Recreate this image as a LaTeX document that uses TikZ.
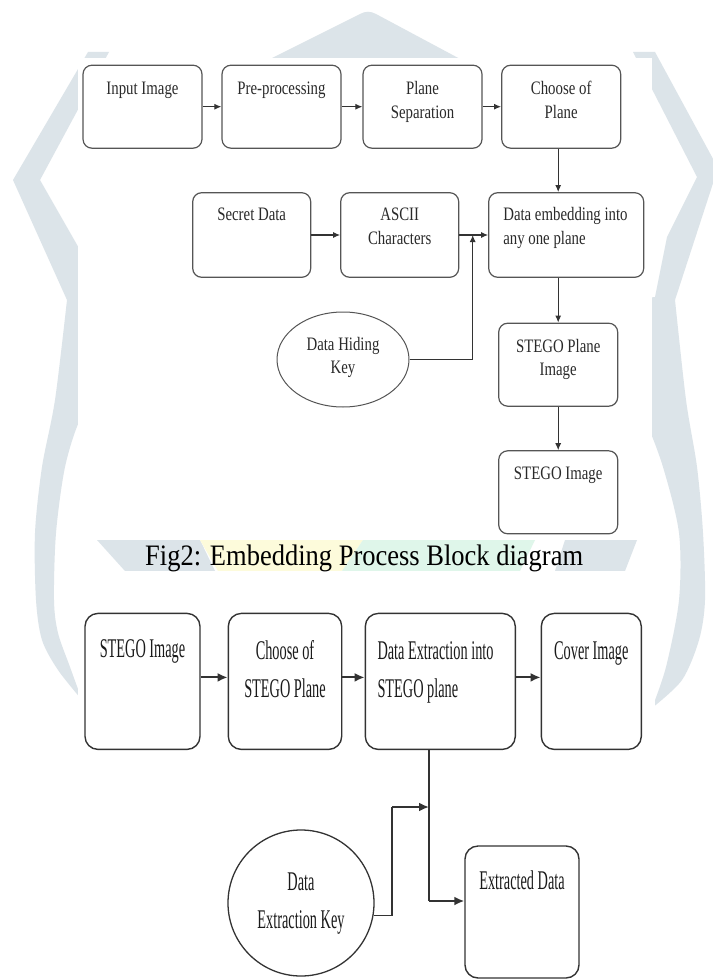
\documentclass[tikz,border=0pt]{standalone}
\usepackage{graphicx}
\usepackage{fontspec}
\setmainfont{Liberation Serif}
\usetikzlibrary{arrows.meta,shapes.geometric}
\definecolor{wm}{HTML}{DCE4E9}
\definecolor{wmy}{HTML}{FDFBDB}
\definecolor{wmg}{HTML}{DFF6EA}
\definecolor{tline}{HTML}{555555}
\definecolor{bline}{HTML}{333333}
\definecolor{ttxtc}{HTML}{2A2A2A}
\definecolor{btxtc}{HTML}{1A1A1A}
\newcommand\TopT[1]{\scalebox{0.78}[1]{\fontsize{19}{23.5}\selectfont\begin{tabular}[t]{@{}c@{}}#1\end{tabular}}}
\newcommand\TopL[1]{\scalebox{0.78}[1]{\fontsize{19}{23.5}\selectfont\begin{tabular}[t]{@{}l@{}}#1\end{tabular}}}
\newcommand\BotT[1]{\scalebox{0.53}[1]{\fontsize{27}{38}\selectfont\begin{tabular}[t]{@{}c@{}}#1\end{tabular}}}
\newcommand\BotL[1]{\scalebox{0.53}[1]{\fontsize{27}{38}\selectfont\begin{tabular}[t]{@{}l@{}}#1\end{tabular}}}
\begin{document}
\begin{tikzpicture}[x=1pt,y=-1pt,
  tbox/.style={draw=tline, line width=1.2pt, rounded corners=9pt, minimum width=119pt, minimum height=83pt, inner sep=0pt},
  bbox/.style={draw=bline, line width=1.4pt, rounded corners=13pt, minimum height=136pt, inner sep=0pt},
  ttext/.style={anchor=base, inner sep=0pt, text=ttxtc},
  btext/.style={anchor=base, inner sep=0pt, text=btxtc},
  tarr/.style={draw=bline, line width=1.1pt, -{Latex[length=7pt,width=6pt]}},
  barr/.style={draw=bline, line width=2pt, -{Latex[length=10pt,width=9pt]}},
  bcon/.style={draw=bline, line width=1.3pt}
]
\useasboundingbox (0,0) rectangle (712,979);
\fill[white] (0,0) rectangle (712,979);
% watermark
\fill[wm] (88,52) -- (13,180) -- (67,300) -- plot[smooth] coordinates {(67,300) (55,400) (42,467) (35,533) (36,600) (42,640) (58,670) (82,700)} -- plot[smooth] coordinates {(82,700) (70,667) (58,633) (54,600) (56,533) (65,467) (80,420) (100,400)} -- (100,285) -- (40,180) -- (109,52) -- cycle;
\fill[wm] (633,52) -- (655,52) -- (718,168) -- (675,300) -- plot[smooth] coordinates {(675,300) (686,400) (697,467) (703,533) (705,600) (699,640) (682,680) (652,708)} -- plot[smooth] coordinates {(652,708) (666,667) (679,600) (679,533) (663,467) (645,420) (630,400)} -- (630,300) -- (655,297) -- (667,237) -- (697,177) -- cycle;
\fill[wm] (268,60) -- (360,14) .. controls (366,11) and (370,11) .. (376,14) -- (462,60) -- cycle;
\fill[wm] (97,540) -- (200,540) -- (215,571) -- (125,571) -- cycle;
\fill[wmy] (200,540) -- (363,540) -- (342,571) -- (218,571) -- cycle;
\fill[wmg] (363,540) -- (535,540) -- (520,571) -- (342,571) -- cycle;
\fill[wm] (565,540) -- (637,540) -- (625,571) -- (555,571) -- cycle;
\fill[white] (78,58) rectangle (652,540);
\fill[white] (78,571) rectangle (655,979);
% ---------- embedding diagram ----------
\node[tbox] (b1) at (142.5,106.7) {};
\node[tbox] (b2) at (281.5,106.7) {};
\node[tbox] (b3) at (422.5,106.7) {};
\node[tbox] (b4) at (561.2,106.7) {};
\node[tbox, minimum height=84.6pt, minimum width=118pt] (sd) at (251.7,235) {};
\node[tbox, minimum height=84.6pt, minimum width=118pt] (as) at (399.7,235) {};
\node[tbox, minimum height=84.6pt, minimum width=155pt] (em) at (566.2,235) {};
\node[tbox] (sp) at (558.2,364.7) {};
\node[tbox] (si) at (558.2,492.3) {};
\node[draw=tline, line width=1pt, ellipse, minimum width=132pt, minimum height=95pt, inner sep=0pt] (hk) at (343,359.5) {};
\node[ttext] (t1) at ([yshift=-30pt]b1.north) {\TopT{Input Image}};
\node[ttext] (t2) at ([yshift=-30pt]b2.north) {\TopT{Pre-processing}};
\node[ttext] (t3) at ([yshift=-30pt]b3.north) {\TopT{Plane\\Separation}};
\node[ttext] (t4) at ([yshift=-30pt]b4.north) {\TopT{Choose of\\Plane}};
\node[ttext] (t5) at ([yshift=-28pt]sd.north) {\TopT{Secret Data}};
\node[ttext] (t6) at ([yshift=-28.5pt]as.north) {\TopT{ASCII\\Characters}};
\node[ttext, anchor=base west] (t7) at ([xshift=15pt,yshift=-28.5pt]em.north west) {\TopL{Data embedding into\\any one plane}};
\node[ttext] (t8) at ([yshift=-29.4pt]sp.north) {\TopT{STEGO Plane\\Image}};
\node[ttext] (t9) at ([yshift=-29.3pt]si.north) {\TopT{STEGO Image}};
\node[ttext] (t10) at ([yshift=9.5pt]hk.center) {\TopT{Data Hiding\\Key}};
\draw[tarr] (b1) -- (b2);
\draw[tarr] (b2) -- (b3);
\draw[tarr] (b3) -- (b4);
\draw[tarr] (sd) -- (as);
\draw[tarr] (as) -- (em);
\draw[tarr] (b4.south -| sp.north) -- (em.north -| sp.north);
\draw[tarr] (em.south -| sp.north) -- (sp.north);
\draw[tarr] (sp) -- (si);
\coordinate (j0) at (472.7,235);
\draw[tarr] (hk.east) -| (j0);
% caption
\node[anchor=base west, inner sep=0pt] (cap) at (145,565) {\scalebox{1}[1.12]{\fontsize{26.5}{30}\selectfont Fig2: Embedding Process Block diagram}};
% ---------- extraction diagram ----------
\node[bbox, minimum width=115pt] (s1) at (142.5,681.4) {};
\node[bbox, minimum width=113.4pt] (s2) at (285,681.4) {};
\node[bbox, minimum width=150pt] (s3) at (440.3,681.4) {};
\node[bbox, minimum width=100pt] (s4) at (591.3,681.4) {};
\node[bbox, minimum width=114pt, minimum height=132pt] (ed) at (522,912) {};
\node[draw=bline, line width=1.3pt, circle, minimum size=146pt, inner sep=0pt] (ck) at (301,903) {};
\node[btext] (u1) at ([yshift=-45pt]s1.north) {\BotT{STEGO Image}};
\node[btext] (u2) at ([yshift=-46.5pt]s2.north) {\BotT{Choose of\\STEGO Plane}};
\node[btext, anchor=base west] (u3) at ([xshift=12.7pt,yshift=-46.5pt]s3.north west) {\BotL{Data Extraction into\\STEGO plane}};
\node[btext] (u4) at ([yshift=-46.5pt]s4.north) {\BotT{Cover Image}};
\node[btext] (u5) at ([yshift=-44pt]ed.north) {\BotT{Extracted Data}};
\node[btext] (u6) at ([yshift=13pt]ck.center) {\BotT{Data\\Extraction Key}};
\draw[barr] ([yshift=4pt]s1.east) -- ([yshift=4pt]s2.west);
\draw[barr] ([yshift=4pt]s2.east) -- ([yshift=4pt]s3.west);
\draw[barr] ([yshift=4pt]s3.east) -- ([yshift=4pt]s4.west);
\coordinate (j1) at (429,807);
\coordinate (j2) at (429,901);
\coordinate (k1) at (392,807);
\draw[bcon] (s3.south -| j2) -- (j2);
\draw[barr] (j2) -- (j2 -| ed.west);
\draw[bcon] (ck.-10) -| (k1);
\draw[barr] (k1) -- (j1);
\end{tikzpicture}
\end{document}
